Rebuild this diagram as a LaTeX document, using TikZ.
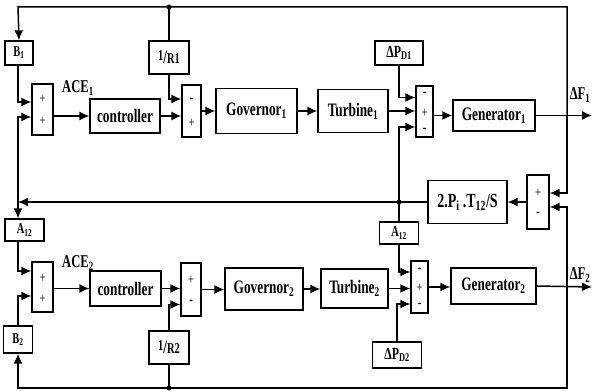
\documentclass[tikz,border=0pt]{standalone}
\usepackage{fontspec}
\setmainfont{Liberation Serif}[FakeStretch=0.7]
\usetikzlibrary{arrows.meta, calc}
\newcommand\fsz[1]{\fontsize{#1}{#1}\selectfont}

\begin{document}
\begin{tikzpicture}[x=1pt, y=-1pt, line width=1.5pt,
  blk/.style={draw, line width=1.3pt, inner sep=0pt, font=\bfseries\fsz{19}},
  sz/.style 2 args={minimum width=#1pt, minimum height=#2pt},
  summer/.style={draw, line width=1.3pt, inner sep=0pt, minimum width=20pt, minimum height=#1pt},
  sgn/.style={inner sep=0pt, font=\fsz{15}},
  lbl/.style={inner sep=0pt, font=\bfseries\fsz{18}},
  arr/.style={-{Latex[length=10pt,width=9pt]}}]
\path[fill=white, use as bounding box] (0,0) rectangle (593,390);

% area 1
\node[blk, sz={28}{24}, font=\bfseries\fsz{15}] (B1) at (19,53) {B\textsubscript{1}};
\node[blk, sz={40}{33}] (R1) at (169,57.5) {\raisebox{3pt}{\fsz{15}1}/\fsz{15}R1};
\node[summer=51, minimum width=21pt] (ace1) at (42.5,109.5) {};
\node[lbl] (acel1) at (78,88) {ACE\textsubscript{1}};
\node[blk, sz={70}{34}] (ctrl1) at (125,116) {controller};
\node[summer=52, minimum width=19pt] (sg1) at (191.5,111) {};
\node[blk, sz={81}{45}] (gov1) at (256.5,111) {Governor\textsubscript{1}};
\node[blk, sz={70}{43}] (tur1) at (353,111) {Turbine\textsubscript{1}};
\node[blk, sz={48}{24}, font=\bfseries\fsz{17}] (pd1) at (399,53) {ΔP\textsubscript{D1}};
\node[summer=51, minimum width=17pt] (sp1) at (424.5,111.5) {};
\node[blk, sz={82}{31}] (gen1) at (494,115.5) {Generator\textsubscript{1}};
\node[lbl, font=\bfseries\fsz{18}] (df1) at (580,95) {ΔF\textsubscript{1}};

% tie line
\node[summer=54, minimum width=22pt] (tsum) at (538,202) {};
\node[blk, sz={79}{43}, font=\bfseries\fsz{20}] (tie) at (467.5,202) {2.P\textsubscript{i}\,.T\textsubscript{12}/S};

% area 2
\node[blk, sz={39}{22}, font=\bfseries\fsz{15}] (a12b) at (399,233) {A\textsubscript{12}};
\node[summer=52, minimum width=17pt] (sp2) at (419.5,287) {};
\node[blk, sz={49}{26}, font=\bfseries\fsz{17}] (pd2) at (397,355) {ΔP\textsubscript{D2}};
\node[blk, sz={85}{36}] (gen2) at (493.5,286) {Generator\textsubscript{2}};
\node[lbl, font=\bfseries\fsz{18}] (df2) at (580,275) {ΔF\textsubscript{2}};
\node[blk, sz={67}{39}] (tur2) at (354.5,288.5) {Turbine\textsubscript{2}};
\node[blk, sz={78}{42}] (gov2) at (264,289) {Governor\textsubscript{2}};
\node[summer=53] (sg2) at (191,289.5) {};
\node[blk, sz={40}{33}] (R2) at (169,347.5) {\raisebox{3pt}{\fsz{15}1}/\fsz{15}R2};
\node[blk, sz={71}{35}] (ctrl2) at (125.5,288.5) {controller};
\node[summer=50, minimum width=21pt] (ace2) at (42.5,287) {};
\node[lbl] (acel2) at (78,263) {ACE\textsubscript{2}};
\node[blk, sz={39}{22}, font=\bfseries\fsz{15}] (a12a) at (24.5,230) {A\textsubscript{12}};
\node[blk, sz={29}{27}, font=\bfseries\fsz{15}] (B2) at (18,339.5) {B\textsubscript{2}};

% signs
\foreach \n/\dy/\s in {ace1/-10/+, ace1/12/+, sg1/-11/\textbf{-}, sg1/12/+,
    sp1/-17/\textbf{-}, sp1/1.5/+, sp1/18.5/\textbf{-}, tsum/-9/+, tsum/12/\textbf{-},
    sp2/-17/\textbf{-}, sp2/1/+, sp2/18/\textbf{-}, sg2/-9.5/+, sg2/12.5/\textbf{-},
    ace2/-9/+, ace2/12/+}
  \node[sgn] at ($(\n)+(0,\dy)$) {\s};

% junctions
\coordinate (j1) at (567,115.5);
\coordinate (o1) at (592,115.5);
\coordinate (j2) at (567,287);
\coordinate (o2) at (592,287);
\coordinate (tl) at (18,7);
\coordinate (bl) at (18,388);
\coordinate (jl) at (18,202);
\coordinate (jt) at (399,202);
\coordinate (d1) at (169,7);
\coordinate (d2) at (169,388);
\foreach \p in {d1,d2,jt} \fill (\p) circle (2.5pt);

% area 1 connections
\draw[arr] (j1) |- (tl) -- (B1.north);
\draw (d1) -- (R1.north);
\draw[arr] (B1.south -| tl) |- ($(ace1.west)+(0,-7.5)$);
\draw[arr] (jl) |- ($(ace1.west)+(0,7.5)$);
\draw[arr] (ace1.east |- ctrl1.west) -- (ctrl1.west);
\draw[arr] (R1.south) |- ($(sg1.west)+(0,-12)$);
\draw[arr] (ctrl1.east) -- (ctrl1.east -| sg1.west);
\draw[arr] (sg1.east) -- (sg1.east -| gov1.west);
\draw[arr] (gov1.east) -- (gov1.east -| tur1.west);
\draw[arr] (tur1.east) -- (tur1.east -| sp1.west);
\draw[arr] (pd1.south) |- ($(sp1.west)+(0,-14)$);
\draw[arr] (jt) |- ($(sp1.west)+(0,15.5)$);
\draw[arr] (sp1.east |- gen1.west) -- (gen1.west);
\draw[arr] (gen1.east) -- (o1);

% tie line connections
\draw[arr] (j1) |- ($(tsum.east)+(0,-9)$);
\draw[arr] (j2) |- ($(tsum.east)+(0,5)$);
\draw[arr] (tsum.west) -- (tie.east);
\draw[arr] (tie.west) -- (jl);
\draw[arr] (jl) -- (jl |- a12a.north);
\draw (jt) -- (a12b.north);

% area 2 connections
\draw[arr] (a12b.south) |- ($(sp2.west)+(0,-15)$);
\draw[arr] (tur2.east) -- (tur2.east -| sp2.west);
\draw[arr] (pd2.north) |- ($(sp2.west)+(0,17)$);
\draw[arr] (sp2.east) -- (sp2.east -| gen2.west);
\draw[arr] (gen2.east) -- (o2);
\draw[arr] (j2) |- (bl) -- (B2.south);
\draw (d2) -- (R2.south);
\draw[arr] (R2.north) |- ($(sg2.west)+(0,15)$);
\draw[arr] (ctrl2.east) -- (ctrl2.east -| sg2.west);
\draw[arr] (sg2.east) -- (sg2.east -| gov2.west);
\draw[arr] (gov2.east) -- (gov2.east -| tur2.west);
\draw[arr] (ace2.east |- ctrl2.west) -- (ctrl2.west);
\draw[arr] (jl |- a12a.south) |- ($(ace2.west)+(0,-16)$);
\draw[arr] (B2.north) |- ($(ace2.west)+(0,9)$);
\end{tikzpicture}
\end{document}
